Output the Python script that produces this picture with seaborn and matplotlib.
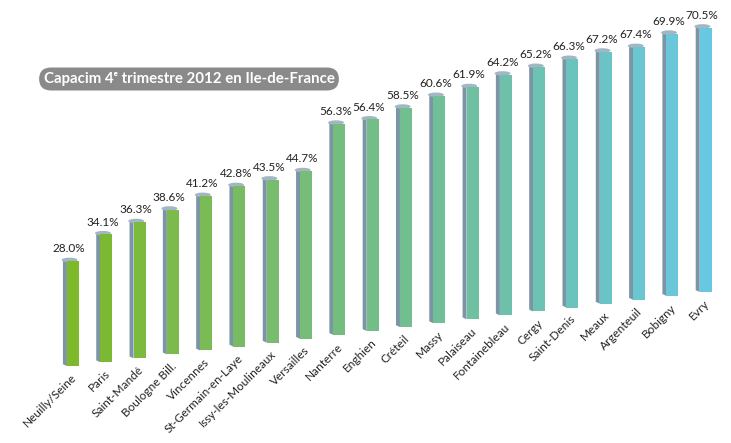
import numpy as np
import pandas as pd
import matplotlib
matplotlib.use("Agg")
import matplotlib.pyplot as plt
import seaborn as sns
from matplotlib.colors import LinearSegmentedColormap, to_hex
from matplotlib.patches import Polygon, Ellipse

# Capacim, 4e trimestre 2012
cities = ['Neuilly/Seine', 'Paris', 'Saint-Mandé', 'Boulogne Bill.', 'Vincennes',
          'St-Germain-en-Laye', 'Issy-les-Moulineaux', 'Versailles', 'Nanterre',
          'Enghien', 'Créteil', 'Massy', 'Palaiseau', 'Fontainebleau', 'Cergy',
          'Saint-Denis', 'Meaux', 'Argenteuil', 'Bobigny', 'Evry']
rates = [28.0, 34.1, 36.3, 38.6, 41.2, 42.8, 43.5, 44.7, 56.3, 56.4,
         58.5, 60.6, 61.9, 64.2, 65.2, 66.3, 67.2, 67.4, 69.9, 70.5]

sns.set_theme(style="white")
plt.rcParams['font.family'] = ['Lato', 'DejaVu Sans']

df = pd.DataFrame({'ville': cities, 'taux': rates})

# green -> cyan gradient along the bars
cmap = LinearSegmentedColormap.from_list(
    'capacim', ['#7DB928', '#78BC72', '#6DC0A6', '#68C8E2'])
colors = [to_hex(cmap(t)) for t in np.linspace(0, 1, len(cities))]

fig = plt.figure(figsize=(7.31, 4.43), dpi=100)
ax = fig.add_axes([0, 0, 1, 1])

front = 0.36
side = 0.12
sns.barplot(data=df, x='ville', y='taux', hue='ville', palette=colors,
            legend=False, width=front, saturation=1, ax=ax, zorder=3)

step = 1.04  # floor rises a bit per bar (perspective)
bars = sorted(ax.patches, key=lambda p: p.get_x())
for i, p in enumerate(bars):
    floor = i * step
    x0 = p.get_x() + side / 2
    h = p.get_height()
    p.set_x(x0)
    p.set_y(floor)
    p.set_edgecolor('none')
    # dark side face
    ax.add_patch(Polygon([(x0 - side, floor + 0.5), (x0, floor),
                          (x0, floor + h), (x0 - side, floor + h + 0.5)],
                         closed=True, fc='#7B95A5', ec='none', zorder=2))
    # top cap
    ax.add_patch(Ellipse((x0 - side / 2 + front / 2 - 0.04, floor + h + 0.3),
                         front + side, 1.2, fc='#A3B6C3', ec='none', zorder=2))
    cx = x0 - side + (front + side) / 2
    ax.text(cx - 0.05, floor + h + 1.8, f"{rates[i]:.1f}%", ha='center',
            va='bottom', fontsize=8.5, color='#222222')
    ax.text(x0 + front / 2 + 0.05, floor - 2.6, cities[i], rotation=45,
            rotation_mode='anchor', ha='right', va='center',
            fontsize=8.5, color='#222222')

ax.set_xlim(-2.13, 19.82)
ax.set_ylim(-20.5, 97.6)
ax.axis('off')

fig.text(189 / 731, 364 / 443, 'Capacim 4ᵉ trimestre 2012 en Ile-de-France',
         ha='center', va='center', color='white', fontsize=10.8,
         fontweight='bold',
         bbox=dict(boxstyle='round,pad=0.3,rounding_size=0.8',
                   fc='#8A8A8A', ec='none'))

fig.savefig('out.png', dpi=100)
